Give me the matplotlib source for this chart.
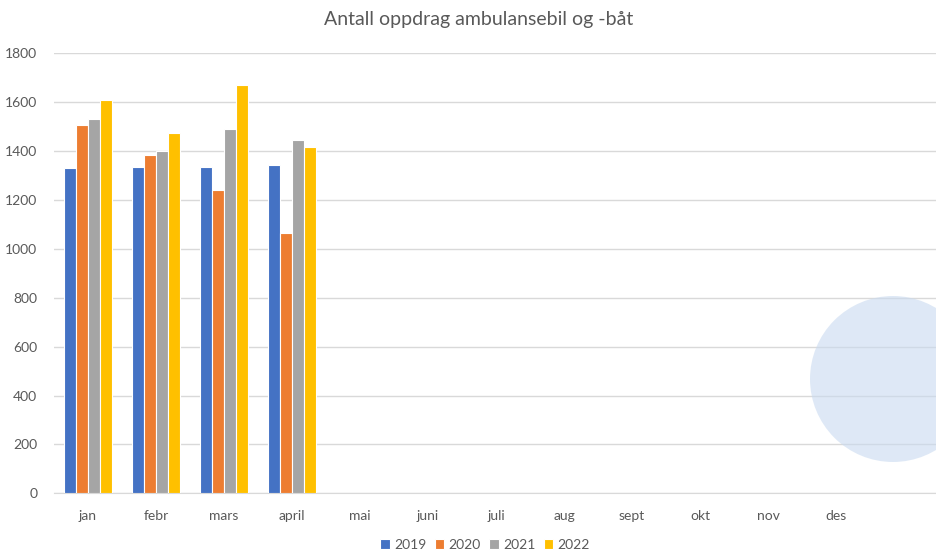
import matplotlib
matplotlib.use("Agg")
import matplotlib.pyplot as plt
import numpy as np
from matplotlib.patches import Circle

months = ["jan", "febr", "mars", "april", "mai", "juni", "juli",
          "aug", "sept", "okt", "nov", "des", ""]
years = ["2019", "2020", "2021", "2022"]
v2019 = [1330, 1336, 1336, 1345]
v2020 = [1505, 1382, 1242, 1063]
v2021 = [1533, 1399, 1492, 1444]
v2022 = [1609, 1475, 1672, 1418]
colors = ["#4472C4", "#ED7D31", "#A5A5A5", "#FFC000"]

plt.rcParams["font.family"] = ["Lato", "DejaVu Sans"]

fig = plt.figure(figsize=(9.36, 5.51), dpi=100)
ax = fig.add_axes([54 / 936, 0.1047, 884 / 936, 0.7986])

x = np.arange(len(months))
w = 0.18
series = [v2019, v2020, v2021, v2022]
for i, (vals, col, lab) in enumerate(zip(series, colors, years)):
    xs = x[:len(vals)] + (i - 1.5) * w
    ax.bar(xs, vals, width=w, color=col, edgecolor="white", linewidth=0.8,
           label=lab, zorder=3)

ax.set_xlim(-0.5, len(months) - 0.5)
ax.set_ylim(0, 1800)
ax.set_yticks(range(0, 1801, 200))
ax.set_xticks(x)
ax.set_xticklabels(months)
ax.grid(axis="y", color="#D9D9D9", linewidth=1, zorder=0)
for s in ["top", "right", "left"]:
    ax.spines[s].set_visible(False)
ax.spines["bottom"].set_color("#D9D9D9")
ax.tick_params(axis="both", length=0, colors="#595959", labelsize=10)
ax.tick_params(axis="x", pad=12)
ax.tick_params(axis="y", pad=12)

fig.text(479 / 936, 1 - 20 / 551, "Antall oppdrag ambulansebil og -båt",
         ha="center", va="center", fontsize=14, color="#595959")

leg = fig.legend(loc="center", bbox_to_anchor=(485 / 936, 1 - 545 / 551),
                 ncol=4, frameon=False, fontsize=10, handlelength=0.7,
                 handleheight=0.7, handletextpad=0.3, columnspacing=0.6)
for t in leg.get_texts():
    t.set_color("#595959")

# highlight spot near the lower right (inches, so it stays round)
fig.patches.append(Circle((8.93, (551 - 379) / 100), 0.83,
                          transform=fig.dpi_scale_trans, facecolor="#C9DAF0",
                          edgecolor="none", alpha=0.6, zorder=5))

fig.savefig("out.png", dpi=100)
